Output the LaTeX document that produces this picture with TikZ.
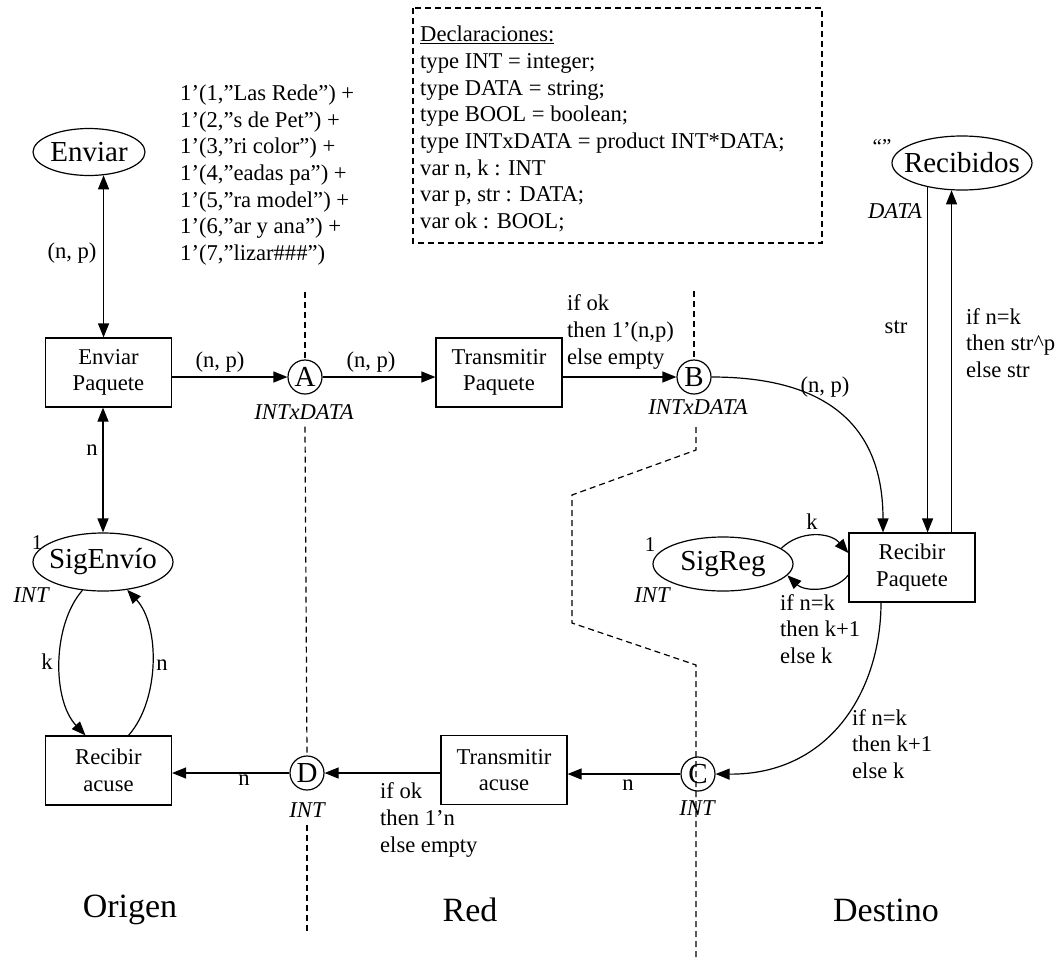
\documentclass[tikz,border=0pt]{standalone}
\usepackage{fontspec}
\setmainfont{Liberation Serif}
\usetikzlibrary{arrows.meta,shapes.geometric,calc}
\newcommand\txtfs{\fontsize{22.6}{26.7}\selectfont}
\newcommand\plfs{\fontsize{29}{34}\selectfont}
\newcommand\bigfs{\fontsize{34}{40}\selectfont}
\newcommand\smfs{\fontsize{21}{24}\selectfont}
\begin{document}
\begin{tikzpicture}[x=1pt,y=-1pt,
  place/.style={ellipse, draw, line width=1.2pt, inner sep=0pt, font=\plfs},
  trans/.style={rectangle, draw, line width=1.2pt, minimum width=126pt, minimum height=69pt, inner sep=0pt, align=center, font=\txtfs},
  port/.style={circle, draw, line width=1.2pt, minimum size=34pt, inner sep=0pt, font=\plfs},
  lbl/.style={inner sep=0pt, font=\txtfs, align=left},
  typ/.style={inner sep=0pt, font=\txtfs\itshape},
  conn/.style={line width=1.2pt, -{Triangle[length=14pt,width=11pt]}},
  conntwo/.style={line width=1.2pt, {Triangle[length=14pt,width=11pt]}-{Triangle[length=14pt,width=11pt]}},
  div/.style={line width=1.2pt, dash pattern=on 6pt off 4pt}]
\useasboundingbox (0,0) rectangle (1063,959);

% places
\node[place, minimum width=112pt, minimum height=47pt] (enviar) at (89,152) {\makebox[0pt]{Enviar}};
\node[place, minimum width=140pt, minimum height=58pt] (sig) at (103,562) {\makebox[0pt]{SigEnvío}};
\node[place, minimum width=140pt, minimum height=54pt] (sigreg) at (723,564) {\makebox[0pt]{SigReg}};
\node[place, minimum width=140pt, minimum height=54pt] (recib) at (962,163) {\makebox[0pt]{Recibidos}};

% transitions
\node[trans] (ep) at (108.5,372.5) {Enviar\\Paquete};
\node[trans] (tp) at (499,372.5) {Transmitir\\Paquete};
\node[trans] (ra) at (108.5,770.5) {Recibir\\acuse};
\node[trans] (ta) at (504,770) {Transmitir\\acuse};
\node[trans] (rp) at (912,567.5) {Recibir\\Paquete};

% ports
\node[port] (A) at (305,377) {A};
\node[port] (B) at (694,377) {B};
\node[port] (C) at (698,774) {C};
\node[port] (D) at (307,773) {D};

% declarations
\draw[div] (413,8) rectangle (822,243);
\node[lbl, anchor=west] (decl) at (420,129) {\underline{Declaraciones:}\\type INT = integer;\\type DATA = string;\\type BOOL = boolean;\\type INTxDATA = product INT*DATA;\\var n, k : INT\\var p, str : DATA;\\var ok : BOOL;};

% initial marking of Enviar
\node[lbl, anchor=west] (tokens) at (180,175) {1’(1,”Las Rede”) +\\1’(2,”s de Pet”) +\\1’(3,”ri color”) +\\1’(4,”eadas pa”) +\\1’(5,”ra model”) +\\1’(6,”ar y ana”) +\\1’(7,”lizar\#\#\#”)};

% dividers
\draw[div] ([yshift=67pt]A.north) -- (A.north);
\draw[div] ([yshift=-32pt]A.south) -- (D.north);
\draw[div] ([yshift=-34pt]D.south) -- ([yshift=-143pt]D.south);
\draw[div] ([yshift=68pt]B.north) -- (B.north);
\draw[div] (696,427) -- (696,450) -- (572,495) -- (572,623) -- (696,665) -- (696,959);

% connectors
\draw[conntwo] (enviar.-58.4) -- (enviar.-58.4 |- ep.north);
\draw[conntwo] (sig.north |- ep.south) -- (sig.north);
\draw[conn] (ep.east |- A) -- (A.west);
\draw[conn] (A.east) -- (tp.west |- A);
\draw[conn] (tp.east |- B) -- (B.west);
\draw[conn] (B.east) .. controls (820,377) and (883,420) .. ($(rp.north)+(-29,0)$);
\draw[conn] (recib.215.8) -- (recib.215.8 |- rp.north);
\draw[conn] (recib.249.5 |- rp.north) -- (recib.249.5);
\draw[conn] (sigreg.15) .. controls (800,530) and (830,532) .. ($(rp.west)+(0,-14.5)$);
\draw[conn] ($(rp.west)+(0,7.5)$) .. controls (835,592) and (805,592) .. (sigreg.-10);
\draw[conn] ($(rp.south)+(-31,0)$) .. controls (881,690) and (830,775) .. (C.east);
\draw[conn] (C.west) -- (ta.east |- C);
\draw[conn] (ta.west |- D) -- (D.east);
\draw[conn] (D.west) -- (ra.east |- D);
\draw[conn] ($(ra.north)+(20,0)$) .. controls (160,700) and (160,625) .. (sig.-49);
\draw[conn] (sig.234) .. controls (52,625) and (52,700) .. ($(ra.north)+(-23,0)$);

% arc labels
\node[lbl] (l1) at (72,253) {(n, p)};
\node[lbl] (l2) at (92,450) {n};
\node[lbl] (l3) at (220,362) {(n, p)};
\node[lbl] (l4) at (371,362) {(n, p)};
\node[lbl, anchor=west] (l5) at (567,332) {if ok\\then 1’(n,p)\\else empty};
\node[lbl] (l6) at (825,387) {(n, p)};
\node[lbl] (l7) at (896,327) {str};
\node[lbl, anchor=west] (l8) at (966,343) {if n=k\\then str\textasciicircum p\\else str};
\node[lbl] (l9) at (812,522) {k};
\node[lbl, anchor=west] (l10) at (780,629) {if n=k\\then k+1\\else k};
\node[lbl, anchor=west] (l11) at (852,744) {if n=k\\then k+1\\else k};
\node[lbl] (l12) at (628,785) {n};
\node[lbl, anchor=west] (l13) at (380,820) {if ok\\then 1’n\\else empty};
\node[lbl] (l14) at (244,780) {n};
\node[lbl] (l15) at (47,662) {k};
\node[lbl] (l16) at (162,665) {n};

% types and markings
\node[typ] (t1) at (304,412) {INTxDATA};
\node[typ] (t2) at (698,407) {INTxDATA};
\node[typ] (t3) at (307,810) {INT};
\node[typ] (t4) at (697,808) {INT};
\node[typ] (t5) at (31,595) {INT};
\node[typ] (t6) at (652,595) {INT};
\node[typ] (t7) at (895,211) {DATA};
\node[inner sep=0pt, font=\smfs] (m1) at (37,543) {1};
\node[inner sep=0pt, font=\smfs] (m2) at (650,545) {1};
\node[inner sep=0pt, font=\smfs] (m3) at (882,147) {“”};

% regions
\node[inner sep=0pt, font=\bigfs] (r1) at (130,910) {Origen};
\node[inner sep=0pt, font=\bigfs] (r2) at (470,910) {Red};
\node[inner sep=0pt, font=\bigfs] (r3) at (886,910) {Destino};
\end{tikzpicture}
\end{document}
